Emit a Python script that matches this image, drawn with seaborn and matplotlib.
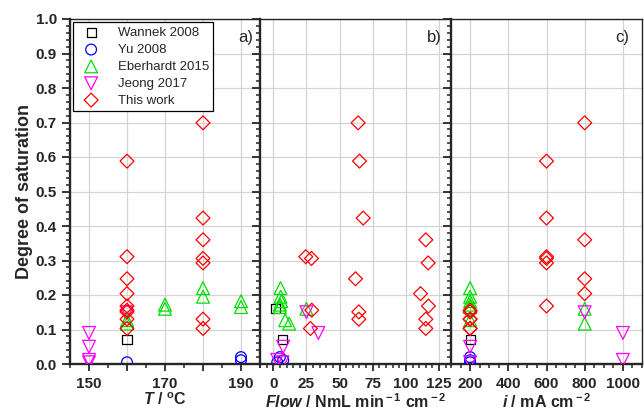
import numpy as np
import pandas as pd
import matplotlib
matplotlib.use("Agg")
import matplotlib.pyplot as plt
from matplotlib.ticker import MultipleLocator, FixedLocator, FixedFormatter
import seaborn as sns

# ---- data: operating temperature, cathode flow, current density, degree of saturation ----
sources = ["Wannek 2008", "Yu 2008", "Eberhardt 2015", "Jeong 2017", "This work"]

wannek_T = [np.nan, 160]
wannek_flow = [1.5, 7.0]
wannek_i = [np.nan, 200]
wannek_dos = [0.160, 0.070]

yu_T = [160, 190, 190]
yu_flow = [3.0, 5.0, 7.5]
yu_i = [200, 200, 200]
yu_dos = [0.005, 0.020, 0.011]

eberhardt_T = [160, 160, 170, 170, 180, 180, 190, 190]
eberhardt_flow = [12.0, 9.0, 5.0, 25.0, 5.5, 5.5, 6.0, 5.0]
eberhardt_i = [800, 200, 200, 800, 200, 200, 200, 200]
eberhardt_dos = [0.117, 0.127, 0.172, 0.160, 0.220, 0.195, 0.182, 0.165]

jeong_T = [150, 150, 150, 150, 160]
jeong_flow = [34.0, 7.5, 3.0, 7.0, 25.0]
jeong_i = [1000, 200, 1000, 200, 800]
jeong_dos = [0.090, 0.050, 0.012, 0.005, 0.150]

work_T = [180, 160, 180, 180, 160, 180, 180, 160, 160, 160, 160, 160, 160, 180, 160, 180]
work_flow = [64.0, 65.0, 67.8, 115.0, 24.5, 28.8, 116.8, 62.0, 111.0, 117.0,
             29.0, 64.5, 64.5, 115.0, 28.0, 115.0]
work_i = [800, 600, 600, 800, 600, 600, 600, 800, 800, 600,
          200, 200, 200, 200, 200, 200]
work_dos = [0.699, 0.588, 0.423, 0.360, 0.311, 0.306, 0.293, 0.247, 0.204, 0.168,
            0.156, 0.151, 0.130, 0.130, 0.103, 0.103]

y_ticks = [0.0, 0.1, 0.2, 0.3, 0.4, 0.5, 0.6, 0.7, 0.8, 0.9, 1.0]
T_ticks = [150, 160, 170, 180, 190]
T_labels = ["150", "", "170", "", "190"]
flow_ticks = [0, 25, 50, 75, 100, 125]
i_ticks = [200, 400, 600, 800, 1000]

frames = []
for name, T, fl, cur, d in [
    (sources[0], wannek_T, wannek_flow, wannek_i, wannek_dos),
    (sources[1], yu_T, yu_flow, yu_i, yu_dos),
    (sources[2], eberhardt_T, eberhardt_flow, eberhardt_i, eberhardt_dos),
    (sources[3], jeong_T, jeong_flow, jeong_i, jeong_dos),
    (sources[4], work_T, work_flow, work_i, work_dos),
]:
    frames.append(pd.DataFrame({"source": name, "T": T, "flow": fl, "i": cur, "dos": d}))
df = pd.concat(frames, ignore_index=True)

# ---- styling ----
sns.set_style("ticks")
plt.rcParams["font.family"] = ["Liberation Sans", "DejaVu Sans"]
plt.rcParams["mathtext.fontset"] = "custom"
plt.rcParams["mathtext.rm"] = "Liberation Sans:bold"
plt.rcParams["mathtext.it"] = "Liberation Sans:italic:bold"
plt.rcParams["mathtext.bf"] = "Liberation Sans:bold"

colors = {"Wannek 2008": "#000000", "Yu 2008": "#0000ff", "Eberhardt 2015": "#00e000",
          "Jeong 2017": "#ff00ff", "This work": "#ff0000"}
markers = {"Wannek 2008": "s", "Yu 2008": "o", "Eberhardt 2015": "^",
           "Jeong 2017": "v", "This work": "D"}
sizes = {"Wannek 2008": 42, "Yu 2008": 60, "Eberhardt 2015": 85,
         "Jeong 2017": 85, "This work": 50}

fig = plt.figure(figsize=(6.44, 4.13), dpi=100)
bottom, top = 1 - 364 / 413, 1 - 19 / 413
edges = [70 / 644, 260 / 644, 451 / 644, 642 / 644]
axes = [fig.add_axes([edges[k], bottom, edges[k + 1] - edges[k], top - bottom]) for k in range(3)]

xcols = ["T", "flow", "i"]
xlims = [(145, 195), (-10, 134), (100, 1100)]
xlabels = [r"$T$ / $^{\rm o}$C", r"$Flow$ / NmL min$^{\rm -1}$ cm$^{\rm -2}$", r"$i$ / mA cm$^{\rm -2}$"]
panel_tags = [("a)", 0.965), ("b)", 0.95), ("c)", 0.935)]

for k, ax in enumerate(axes):
    for src in sources:
        sub = df[df["source"] == src].dropna(subset=[xcols[k]])
        sns.scatterplot(data=sub, x=xcols[k], y="dos", ax=ax, marker=markers[src],
                        s=sizes[src], facecolor="none", edgecolor=colors[src],
                        linewidth=0.9, label=src if k == 0 else None,
                        legend=False, zorder=3)
    ax.set_xlim(*xlims[k])
    ax.set_ylim(0, 1.0)
    ax.yaxis.set_major_locator(FixedLocator(y_ticks))
    ax.yaxis.set_minor_locator(MultipleLocator(0.02))
    ax.grid(True, which="major", color="#d4d4d4", linewidth=0.9)
    ax.set_axisbelow(True)
    for side in ["left", "bottom"]:
        ax.spines[side].set_linewidth(1.7)
    for side in ["top", "right"]:
        ax.spines[side].set_linewidth(1.0)
    ax.tick_params(axis="both", which="major", direction="out", width=1.3, length=5)
    ax.tick_params(axis="both", which="minor", direction="out", width=1.1, length=3)
    ax.tick_params(axis="y", which="both", left=True, right=False)
    ax.tick_params(axis="x", which="both", bottom=True, top=False, pad=4)
    ax.tick_params(axis="y", which="major", length=6)
    ax.set_xlabel(xlabels[k], fontsize=11.5, fontweight="bold", labelpad=1)
    ax.text(panel_tags[k][1], 0.945, panel_tags[k][0], transform=ax.transAxes,
            ha="right", va="center", fontsize=12)
    if k == 0:
        ax.set_ylabel("Degree of saturation", fontsize=13, fontweight="bold", labelpad=2)
    else:
        ax.set_ylabel("")
        ax.tick_params(axis="y", labelleft=False)

axes[0].xaxis.set_major_locator(FixedLocator(T_ticks))
axes[0].xaxis.set_major_formatter(FixedFormatter(T_labels))
axes[0].xaxis.set_minor_locator(MultipleLocator(5))
axes[1].xaxis.set_major_locator(FixedLocator(flow_ticks))
axes[1].xaxis.set_minor_locator(MultipleLocator(5))
axes[2].xaxis.set_major_locator(FixedLocator(i_ticks))
axes[2].xaxis.set_minor_locator(MultipleLocator(50))
axes[0].set_yticklabels([f"{v:.1f}" for v in y_ticks])
for ax in axes:
    for lab in ax.get_xticklabels() + ax.get_yticklabels():
        lab.set_fontweight("bold")
        lab.set_fontsize(11)

leg = axes[0].legend(loc="upper left", frameon=True, fancybox=False, edgecolor="black",
                     framealpha=1, fontsize=9.5, borderaxespad=0.25, handletextpad=1.0,
                     labelspacing=0.35, borderpad=0.35, handlelength=2.0)
leg.get_frame().set_linewidth(0.9)

fig.savefig("out.png", dpi=100)
